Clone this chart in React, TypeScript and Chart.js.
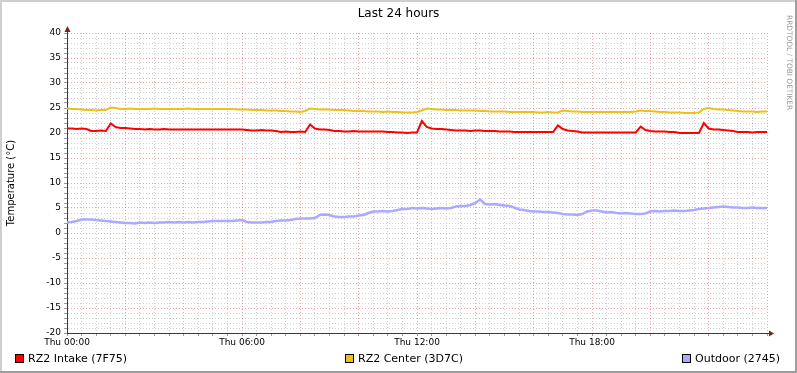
import React, { useEffect, useRef } from 'react';
import { Chart, registerables } from 'chart.js';

Chart.register(...registerables);

const TITLE = 'Last 24 hours';
const Y_TITLE = 'Temperature (°C)';
const WATERMARK = 'RRDTOOL / TOBI OETIKER';
const STEP_MINUTES = 10;
const DAY_PREFIX = 'Thu';
const SERIES_NAMES = ['RZ2 Intake (7F75)', 'RZ2 Center (3D7C)', 'Outdoor (2745)'];
const SERIES_COLORS = ['#FF0000', '#E9C21F', '#AAAAFF'];
const Y_MIN = -20;
const Y_MAX = 40;

const intake = [
  20.9, 20.9, 20.8, 20.9, 20.8,
  20.4, 20.4, 20.5, 20.4,
  21.9, 21.2,
  21.0, 21.0, 20.9, 20.8, 20.8,
  20.7, 20.8, 20.7, 20.7, 20.8, 20.7, 20.7, 20.7, 20.7, 20.7, 20.7, 20.7, 20.7, 20.7, 20.7, 20.7, 20.7, 20.7, 20.7, 20.7, 20.7, 20.6,
  20.5, 20.5, 20.6, 20.5, 20.5, 20.4,
  20.2, 20.3, 20.2, 20.2, 20.3, 20.2,
  21.7, 20.9,
  20.7, 20.7, 20.6,
  20.4, 20.4, 20.3, 20.3, 20.4, 20.3, 20.3, 20.3, 20.3, 20.3, 20.3, 20.2, 20.2,
  20.1, 20.1, 20.0, 20.1, 20.1,
  22.4, 21.2,
  20.9, 20.8, 20.8, 20.7, 20.6, 20.5,
  20.5, 20.5, 20.4, 20.5, 20.5, 20.4, 20.4, 20.4, 20.3, 20.3, 20.3, 20.2, 20.2, 20.2, 20.2, 20.2, 20.2, 20.2, 20.2, 20.2,
  21.5, 20.8,
  20.5, 20.4, 20.3,
  20.1, 20.1, 20.1, 20.1, 20.1, 20.1, 20.1, 20.1, 20.1, 20.1, 20.1, 20.1,
  21.3, 20.6,
  20.4, 20.3, 20.3, 20.3, 20.2, 20.2,
  20.0, 20.0, 20.0, 20.0, 20.0,
  22.0, 20.9,
  20.7, 20.7, 20.6, 20.5, 20.4,
  20.2, 20.2, 20.2, 20.1, 20.2, 20.2, 20.2,
];

const center = [
  24.9, 24.8, 24.8, 24.7,
  24.6, 24.6, 24.5, 24.6, 24.6,
  25.1, 25.0,
  24.8, 24.8, 24.9, 24.8, 24.8, 24.8, 24.8, 24.9, 24.8, 24.8, 24.8, 24.8, 24.8, 24.8, 24.9, 24.8, 24.8, 24.8, 24.8, 24.8, 24.8, 24.8, 24.8, 24.8, 24.7,
  24.7, 24.7, 24.6, 24.6, 24.6, 24.5, 24.5, 24.5, 24.4, 24.4, 24.3, 24.3,
  24.2,
  24.4, 24.9, 24.8,
  24.7, 24.7, 24.7, 24.6, 24.6, 24.6,
  24.5, 24.4, 24.4, 24.4, 24.3, 24.3, 24.3, 24.2, 24.3, 24.2, 24.2, 24.1, 24.1, 24.1, 24.2,
  24.5, 24.9,
  24.8, 24.7, 24.7, 24.6, 24.6, 24.6, 24.5, 24.5, 24.5, 24.5, 24.4,
  24.4, 24.3, 24.3, 24.3, 24.3, 24.2, 24.2, 24.2, 24.2, 24.2, 24.2, 24.1, 24.1, 24.2, 24.1, 24.1,
  24.5, 24.4,
  24.3, 24.3, 24.2, 24.2, 24.2, 24.2, 24.2, 24.2, 24.2, 24.2, 24.2, 24.2, 24.2, 24.3,
  24.5, 24.4, 24.4,
  24.3, 24.2, 24.2, 24.1, 24.1, 24.1, 24.0, 24.0, 24.0, 24.1,
  24.8, 25.0,
  24.8, 24.7, 24.7, 24.6, 24.5,
  24.4, 24.3, 24.3, 24.3, 24.2, 24.3, 24.3,
];

const outdoor = [
  2.1, 2.2, 2.4,
  2.7, 2.7, 2.7, 2.6,
  2.5, 2.4, 2.3,
  2.2, 2.1, 2.0, 2.0, 1.9,
  2.1, 2.0, 2.1, 2.0, 2.1, 2.1, 2.2, 2.1, 2.2, 2.1, 2.2, 2.1, 2.2, 2.2, 2.3,
  2.4, 2.4, 2.4, 2.4, 2.4, 2.5, 2.6,
  2.2, 2.1, 2.1, 2.1, 2.2, 2.2,
  2.4, 2.5, 2.5,
  2.6, 2.8, 2.9,
  2.9, 2.9, 3.0,
  3.6, 3.7, 3.6,
  3.3, 3.2, 3.2, 3.3,
  3.3, 3.5,
  3.6, 4.0, 4.3, 4.3, 4.4, 4.3,
  4.4, 4.6, 4.8, 4.8,
  5.0, 4.9, 5.0, 4.9, 4.8, 4.9, 5.0,
  4.9, 5.0, 5.3, 5.4,
  5.4, 5.6, 6.0,
  6.7, 5.8,
  5.7, 5.8, 5.6,
  5.5, 5.4, 5.1,
  4.7, 4.6, 4.4,
  4.3, 4.3, 4.2, 4.2, 4.1, 4.0,
  3.8, 3.7, 3.7, 3.6, 3.8,
  4.3, 4.5, 4.5, 4.3,
  4.1, 4.2, 4.0, 3.9, 4.0, 3.9,
  3.8, 3.8, 3.9,
  4.3, 4.4, 4.3, 4.4, 4.4, 4.5, 4.4,
  4.4, 4.5, 4.6, 4.8, 4.9, 5.0,
  5.1, 5.2, 5.3, 5.2, 5.1, 5.1, 5.0,
  5.0, 5.1, 5.0, 5.0, 5.0,
];

const minutes = intake.map((_, i) => i * STEP_MINUTES);

const FONT = '"DejaVu Sans", sans-serif';
const MINOR_GRID = 'rgba(150,150,150,0.45)';
const MAJOR_GRID = 'rgba(222,79,79,0.5)';
const AXIS_COLOR = '#3a3a3a';
const ARROW_COLOR = '#801F1F';

const decor = {
  id: 'decor',
  beforeDraw(chart: any) {
    const { ctx, width, height } = chart;
    ctx.save();
    ctx.fillStyle = '#FFFFFF';
    ctx.fillRect(0, 0, width, height);
    ctx.fillStyle = '#CFCFCF';
    ctx.fillRect(0, 0, width, 2);
    ctx.fillRect(0, 0, 2, height);
    ctx.fillStyle = '#9E9E9E';
    ctx.fillRect(0, height - 2, width, 2);
    ctx.fillRect(width - 2, 0, 2, height);
    ctx.restore();
  },
  afterDraw(chart: any) {
    const { ctx, chartArea: a, width } = chart;
    ctx.save();
    ctx.strokeStyle = AXIS_COLOR;
    ctx.lineWidth = 1;
    ctx.beginPath();
    ctx.moveTo(a.left + 0.5, a.top);
    ctx.lineTo(a.left + 0.5, a.top - 3);
    ctx.moveTo(a.right, a.bottom + 0.5);
    ctx.lineTo(a.right + 3, a.bottom + 0.5);
    ctx.stroke();
    ctx.fillStyle = ARROW_COLOR;
    ctx.beginPath();
    ctx.moveTo(a.left + 0.5, a.top - 7);
    ctx.lineTo(a.left - 2.5, a.top - 1);
    ctx.lineTo(a.left + 3.5, a.top - 1);
    ctx.closePath();
    ctx.fill();
    ctx.beginPath();
    ctx.moveTo(a.right + 7, a.bottom + 0.5);
    ctx.lineTo(a.right + 2, a.bottom - 2.5);
    ctx.lineTo(a.right + 2, a.bottom + 3.5);
    ctx.closePath();
    ctx.fill();

    ctx.fillStyle = '#000';
    ctx.font = `12px ${FONT}`;
    ctx.textAlign = 'center';
    ctx.textBaseline = 'middle';
    ctx.fillText(TITLE, width / 2, 14);

    ctx.save();
    ctx.translate(11, (a.top + a.bottom) / 2);
    ctx.rotate(-Math.PI / 2);
    ctx.font = `10px ${FONT}`;
    ctx.fillText(Y_TITLE, 0, 0);
    ctx.restore();

    ctx.save();
    ctx.translate(789, 15);
    ctx.rotate(Math.PI / 2);
    ctx.font = `7.4px ${FONT}`;
    ctx.fillStyle = '#999999';
    ctx.textAlign = 'left';
    ctx.textBaseline = 'middle';
    ctx.fillText(WATERMARK, 0, 0);
    ctx.restore();

    const legendX = [15, 345, 682];
    ctx.font = `11px ${FONT}`;
    ctx.textAlign = 'left';
    ctx.textBaseline = 'middle';
    SERIES_NAMES.forEach((name, i) => {
      const x = legendX[i];
      ctx.fillStyle = SERIES_COLORS[i];
      ctx.fillRect(x, 354, 9, 9);
      ctx.strokeStyle = '#000';
      ctx.lineWidth = 1;
      ctx.strokeRect(x + 0.5, 354.5, 8, 8);
      ctx.fillStyle = '#000';
      ctx.fillText(name, x + 13, 359);
    });
    ctx.restore();
  },
};

function pad2(n: number) {
  return n < 10 ? '0' + n : String(n);
}

export default function App() {
  const ref = useRef<HTMLCanvasElement | null>(null);

  useEffect(() => {
    if (!ref.current) return;
    const series = [intake, center, outdoor];
    const chart = new Chart(ref.current, {
      type: 'line',
      data: {
        datasets: series.map((vals, si) => ({
          label: SERIES_NAMES[si],
          data: vals.map((v, i) => ({ x: minutes[i], y: v })),
          borderColor: SERIES_COLORS[si],
          backgroundColor: SERIES_COLORS[si],
          borderWidth: si === 2 ? 2.5 : 2,
          pointRadius: 0,
          tension: 0,
          fill: false,
        })),
      },
      options: {
        responsive: false,
        animation: false,
        devicePixelRatio: 1,
        layout: { padding: { top: 33, right: 30, left: 0, bottom: 0 } },
        plugins: {
          legend: { display: false },
          tooltip: { enabled: false },
          title: { display: false },
        },
        scales: {
          x: {
            type: 'linear',
            min: 0,
            max: 1440,
            afterFit: (s: any) => { s.height = 40; },
            ticks: {
              stepSize: 30,
              autoSkip: false,
              maxRotation: 0,
              minRotation: 0,
              padding: 1,
              color: '#000',
              font: { family: FONT, size: 9 },
              callback: (v: any) => {
                const n = Number(v);
                if (n % 360 !== 0 || n >= 1440) return '';
                return `${DAY_PREFIX} ${pad2(n / 60)}:00`;
              },
            },
            grid: {
              color: (c: any) => (c.tick && c.tick.value % 120 === 0 ? MAJOR_GRID : MINOR_GRID),
              lineWidth: 1,
              tickLength: 3,
              tickColor: 'rgba(90,90,90,0.6)',
            },
            border: { color: AXIS_COLOR, width: 1, dash: [1, 2] },
          },
          y: {
            type: 'linear',
            min: Y_MIN,
            max: Y_MAX,
            afterFit: (s: any) => { s.width = 67; },
            ticks: {
              stepSize: 1,
              autoSkip: false,
              padding: 3,
              color: '#000',
              font: { family: FONT, size: 9 },
              callback: (v: any) => {
                const n = Number(v);
                return n % 5 === 0 ? String(n) : '';
              },
            },
            grid: {
              color: (c: any) => (c.tick && c.tick.value % 5 === 0 ? MAJOR_GRID : MINOR_GRID),
              lineWidth: 1,
              tickLength: 3,
              tickColor: 'rgba(90,90,90,0.6)',
            },
            border: { color: AXIS_COLOR, width: 1, dash: [1, 2] },
          },
        },
      },
      plugins: [decor],
    });
    return () => chart.destroy();
  }, []);

  return (
    <div style={{ position: 'absolute', left: 0, top: 0, width: 797, height: 373 }}>
      <canvas ref={ref} width={797} height={373} style={{ display: 'block' }} />
    </div>
  );
}
